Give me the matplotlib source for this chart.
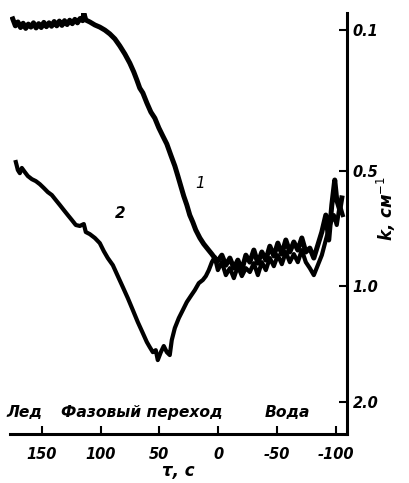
import numpy as np
import matplotlib
matplotlib.use('Agg')
import matplotlib.pyplot as plt

# curve 1 (upper trace)
x1 = [174.7, 172.5, 170.3, 168.1, 165.9, 163.7, 161.5, 159.3, 157.1, 154.9, 152.7, 150.5,
      148.3, 146.1, 143.9, 141.7, 139.5, 137.3, 135.1, 132.9, 130.7, 128.5, 126.3, 124.1,
      121.9, 119.7, 117.5, 115.3, 114.3, 112.6, 109.2, 104.9, 100.7, 96.4,
      92.2, 87.9, 83.7, 79.4, 75.2, 71.8, 69.2, 66.7, 64.1, 60.7, 57.3, 53.9, 50.5, 47.1,
      43.7, 40.3, 36.9, 34.3, 31.8, 29.3, 26.7, 24.2, 21.6, 19.1, 15.6, 12.3, 8.9, 5.4, 2.9,
      1.2, -3.1, -6.5, -9.9, -13.3, -16.7, -20.1, -23.5, -26.9, -30.3, -33.7, -37.1, -40.5,
      -43.9, -47.3, -50.7, -54.1, -57.5, -60.9, -64.3, -67.7, -71.1, -74.5, -77.9, -81.3,
      -84.7, -88.1, -91.5, -94.0, -96.6, -99.1, -100.8, -103.4, -105.1]
k1 = [0.074, 0.090, 0.081, 0.094, 0.084, 0.096, 0.086, 0.093, 0.083, 0.095, 0.085, 0.094,
      0.082, 0.092, 0.083, 0.091, 0.080, 0.090, 0.079, 0.089, 0.078, 0.087, 0.077, 0.085,
      0.075, 0.083, 0.073, 0.078, 0.0605, 0.0765, 0.081, 0.088, 0.093, 0.100,
      0.109, 0.121, 0.138, 0.158, 0.181, 0.204, 0.225, 0.247, 0.260, 0.288, 0.314, 0.332,
      0.361, 0.386, 0.411, 0.447, 0.483, 0.518, 0.554, 0.591, 0.625, 0.665, 0.694, 0.727,
      0.762, 0.789, 0.812, 0.836, 0.855,
      0.875, 0.841, 0.890, 0.855, 0.905, 0.865, 0.915, 0.841, 0.875, 0.817, 0.880, 0.826,
      0.865, 0.799, 0.845, 0.785, 0.836, 0.771, 0.826, 0.780, 0.817, 0.762, 0.826, 0.808,
      0.855, 0.794, 0.736, 0.665, 0.771, 0.625, 0.532, 0.606, 0.645, 0.598]

# curve 2 (lower trace)
x2 = [172.1, 170.4, 168.7, 167.0, 164.5, 161.9, 158.5, 155.1, 151.7, 148.3, 144.9, 141.5,
      138.1, 134.7, 131.3, 127.9, 124.5, 121.1, 117.7, 114.3, 112.6, 109.2, 104.9, 100.7,
      97.3, 93.9, 89.6, 85.4, 81.1, 76.9, 72.6, 68.4, 64.1, 60.7, 58.2, 55.6, 53.1, 51.4,
      48.8, 46.3, 43.7, 41.2, 39.5, 36.9, 33.5, 30.1, 26.7, 23.3, 19.9, 16.5, 13.1, 10.5,
      8.0, 5.4, 2.9,
      0.3, -3.1, -6.5, -9.9, -13.3, -16.7, -20.1, -23.5, -26.9, -30.3, -33.7, -37.1, -40.5,
      -43.9, -47.3, -50.7, -54.1, -57.5, -60.9, -64.3, -67.7, -71.1, -74.5, -77.9, -81.3,
      -84.7, -88.1, -91.5, -94.9, -98.3, -100.8, -103.4, -105.9]
k2 = [0.470, 0.497, 0.508, 0.490, 0.504, 0.518, 0.529, 0.536, 0.547, 0.561, 0.576, 0.587,
      0.606, 0.625, 0.645, 0.665, 0.685, 0.706, 0.710, 0.702, 0.736, 0.745, 0.762, 0.785,
      0.822, 0.855, 0.890, 0.946, 1.006, 1.069, 1.143, 1.222, 1.301, 1.369, 1.410, 1.452,
      1.435, 1.522, 1.452, 1.401, 1.452, 1.477, 1.354, 1.264, 1.195, 1.143, 1.093, 1.057,
      1.023, 0.984, 0.967, 0.946, 0.915, 0.875, 0.850,
      0.915, 0.875, 0.941, 0.905, 0.957, 0.895, 0.946, 0.905, 0.925, 0.880, 0.941, 0.875,
      0.915, 0.855, 0.895, 0.841, 0.885, 0.826, 0.875, 0.836, 0.875, 0.817, 0.875, 0.905,
      0.941, 0.890, 0.841, 0.771, 0.706, 0.665, 0.706, 0.625, 0.665]

xticks = [150, 100, 50, 0, -50, -100]
yticks = [0.1, 0.5, 1.0, 2.0]
ytick_labels = ['0.1', '0.5', '1.0', '2.0']
regions = ['Лед', 'Фазовый переход', 'Вода']
region_x = [0.043, 0.39, 0.825]


# the k axis is spaced like transmittance exp(-d*k); sign flipped so it increases
def fwd(k):
    return -np.exp(-0.95 * np.asarray(k))


def inv(t):
    t = np.clip(-np.asarray(t, dtype=float), 1e-9, None)
    return -np.log(t) / 0.95


fig = plt.figure(figsize=(4.1, 4.83), dpi=100)
ax = fig.add_axes([0.024, 0.1014, 0.822, 0.8716])

ax.plot(x1, k1, color='black', lw=3.6, solid_joinstyle='round')
ax.plot(x2, k2, color='black', lw=3.0, solid_joinstyle='round')

ax.set_yscale('function', functions=(fwd, inv))
ax.set_xlim(177.2, -109.4)
ax.set_ylim(2.60, 0.0605)

ax.spines['left'].set_visible(False)
ax.spines['top'].set_visible(False)
ax.spines['bottom'].set_linewidth(2.2)
ax.spines['right'].set_linewidth(2.2)

tfont = dict(fontsize=10.5, fontweight='bold', fontstyle='italic')
ax.set_xticks(xticks)
ax.set_xticklabels([str(v) for v in xticks], **tfont)
ax.yaxis.tick_right()
ax.set_yticks(yticks)
ax.set_yticklabels(ytick_labels, **tfont)
ax.yaxis.set_minor_locator(matplotlib.ticker.NullLocator())
ax.tick_params(axis='x', direction='in', length=6, width=1.5, pad=9)
ax.tick_params(axis='y', direction='in', length=6, width=1.5, pad=4)

ax.set_xlabel('τ, с', fontsize=12, fontstyle='italic', fontweight='bold', labelpad=0)
ax.text(1.118, 0.535, 'k, см$^{-1}$', transform=ax.transAxes, rotation=90,
        ha='center', va='center', fontsize=12, fontstyle='italic', fontweight='bold')

for lab, xp in zip(regions, region_x):
    ax.text(xp, 0.052, lab, transform=ax.transAxes, ha='center', va='center',
            fontsize=11.2, fontstyle='italic', fontweight='bold')

ax.text(15.7, 0.543, '1', fontsize=11, fontstyle='italic', ha='center', va='center')
ax.text(83.7, 0.657, '2', fontsize=11, fontstyle='italic', fontweight='bold',
        ha='center', va='center')

plt.savefig('out.png', dpi=100)
